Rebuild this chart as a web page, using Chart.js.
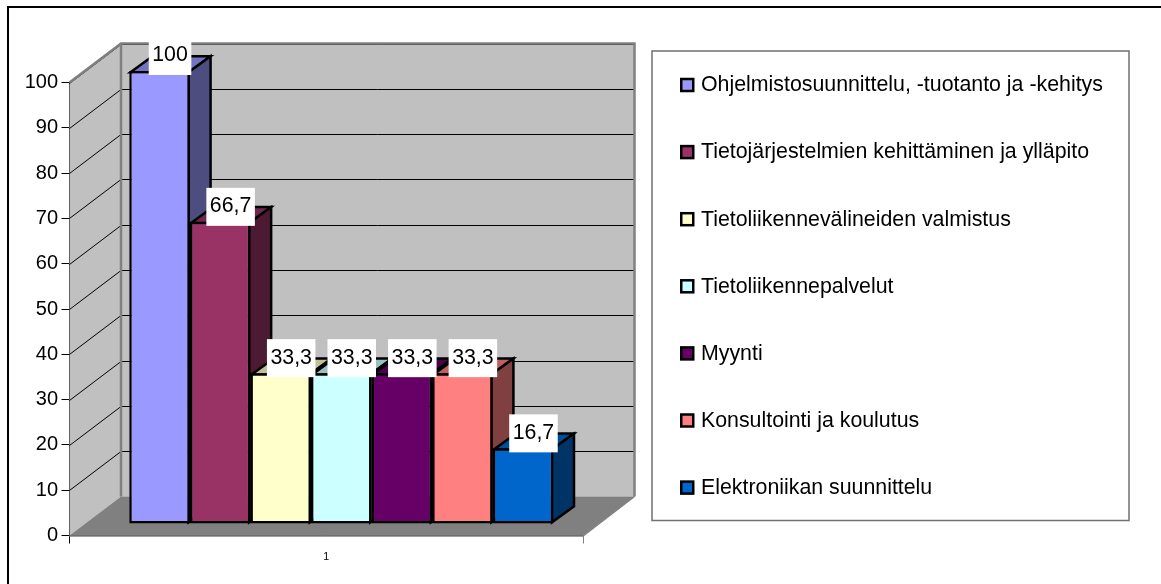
<!DOCTYPE html>
<html><head><meta charset="utf-8">
<style>html,body{margin:0;padding:0;background:#fff}canvas{display:block}</style>
<script src="https://cdn.jsdelivr.net/npm/chart.js@4"></script>
</head><body><canvas id="c" width="1161" height="584"></canvas>
<script>
const categories = ['1'];
const seriesNames = ['Ohjelmistosuunnittelu, -tuotanto ja -kehitys','Tietojärjestelmien kehittäminen ja ylläpito','Tietoliikennevälineiden valmistus','Tietoliikennepalvelut','Myynti','Konsultointi ja koulutus','Elektroniikan suunnittelu'];
const seriesValues = [100, 66.7, 33.3, 33.3, 33.3, 33.3, 16.7];
const seriesColors = ['#9999FF','#993366','#FFFFCC','#CCFFFF','#660066','#FF8080','#0066CC'];

const FONT = '"Liberation Sans", Arial, sans-serif';
const FS = 21.33;
const TICK_FS = 20;
const LW = 2.5;
const DEPTH = {x: 51.5, y: -39};      // floor depth
const FRONT = {x: 15, y: -11.5};      // bar front face offset
const BAR_D = {x: 22, y: -16};        // bar depth
const LEG_FRAME = {l: 652, t: 51, r: 1129, b: 520.5};
const LEG_ROW = {first: 85.5, step: 67.1, swatchX: 681.25, swatchSize: 12, textX: 701};

function shade(hex, k){
  const n = parseInt(hex.slice(1),16);
  return 'rgb('+[(n>>16)&255,(n>>8)&255,n&255].map(v=>Math.round(v*k)).join(',')+')';
}
function poly(ctx, pts, fill, stroke, lw){
  ctx.beginPath();
  pts.forEach((p,i)=> i?ctx.lineTo(p[0],p[1]):ctx.moveTo(p[0],p[1]));
  ctx.closePath();
  if(fill){ctx.fillStyle=fill;ctx.fill();}
  if(stroke){ctx.strokeStyle=stroke;ctx.lineWidth=lw;ctx.lineJoin='miter';ctx.stroke();}
}
function barsOf(chart){
  return chart.data.datasets.map((d,i)=>{
    const e = chart.getDatasetMeta(i).data[0];
    return {i, x0:e.x-e.width/2, x1:e.x+e.width/2, y:e.y, base:e.base, color:d.backgroundColor, value:d.data[0]};
  });
}
const scene = {
  id:'scene',
  afterLayout(chart){
    const lg = chart.legend, lab = chart.options.plugins.legend.labels, p = lab.padding;
    lg.left = LEG_ROW.textX - FS/2 - lab.boxWidth - p;
    lg.right = 1150;
    lg.top = LEG_ROW.first - FS/2 - p;
    lg.bottom = 2000;
    lg.width = lg.right-lg.left; lg.height = lg.bottom-lg.top;
  },
  beforeDraw(chart){
    const {ctx, width, height} = chart;
    ctx.save();
    ctx.fillStyle='#fff'; ctx.fillRect(0,0,width,height);
    ctx.strokeStyle='#000'; ctx.lineWidth=2;
    ctx.beginPath(); ctx.moveTo(8,height); ctx.lineTo(8,7); ctx.lineTo(width,7); ctx.stroke();
    poly(ctx,[[LEG_FRAME.l,LEG_FRAME.t],[LEG_FRAME.r,LEG_FRAME.t],[LEG_FRAME.r,LEG_FRAME.b],[LEG_FRAME.l,LEG_FRAME.b]],'#fff','#707070',1.5);
    ctx.restore();
  },
  beforeDatasetsDraw(chart){
    const {ctx, chartArea:a, scales:{y:ys}} = chart;
    const L=a.left,R=a.right,T=a.top,B=a.bottom,dx=DEPTH.x,dy=DEPTH.y;
    ctx.save();
    poly(ctx,[[L+dx,T+dy],[R+dx,T+dy],[R+dx,B+dy],[L+dx,B+dy]],'#C0C0C0');
    poly(ctx,[[L,T],[L+dx,T+dy],[L+dx,B+dy],[L,B]],'#C0C0C0');
    poly(ctx,[[L,B],[L+dx,B+dy],[R+dx,B+dy],[R,B]],'#808080');
    ctx.strokeStyle='#000'; ctx.lineWidth=1;
    ys.ticks.forEach(t=>{
      if(t.value===0) return;
      const y=Math.round(ys.getPixelForValue(t.value))+.5;
      ctx.beginPath(); ctx.moveTo(L,y); ctx.lineTo(L+dx,y+dy); ctx.lineTo(R+dx,y+dy); ctx.stroke();
    });
    ctx.strokeStyle='#808080'; ctx.lineWidth=2.5; ctx.lineJoin='miter';
    ctx.beginPath(); ctx.moveTo(L,T); ctx.lineTo(L+dx,T+dy); ctx.lineTo(R+dx,T+dy); ctx.lineTo(R+dx,B+dy); ctx.stroke();
    ctx.beginPath(); ctx.moveTo(L+dx,T+dy); ctx.lineTo(L+dx,B+dy); ctx.stroke();
    ctx.lineWidth=1.5;
    ctx.beginPath(); ctx.moveTo(L,B+.5); ctx.lineTo(R,B+.5); ctx.lineTo(R+dx,B+dy); ctx.stroke();
    const h = LW/2;
    barsOf(chart).forEach(b=>{
      const x0=b.x0+FRONT.x+h, x1=b.x1+FRONT.x-h, yt=b.y+FRONT.y+h, yb=b.base+FRONT.y-h, ox=BAR_D.x, oy=BAR_D.y;
      poly(ctx,[[x0,yt],[x1,yt],[x1+ox,yt+oy],[x0+ox,yt+oy]],shade(b.color,.75),'#000',LW);
      poly(ctx,[[x1,yt],[x1+ox,yt+oy],[x1+ox,yb+oy],[x1,yb]],shade(b.color,.5),'#000',LW);
    });
    ctx.restore();
    ctx.save();
    ctx.translate(FRONT.x, FRONT.y);
  },
  afterDatasetsDraw(chart){
    const {ctx, chartArea:a} = chart;
    ctx.restore();
    ctx.save();
    ctx.font = FS+'px '+FONT;
    const wallTop = a.top + DEPTH.y - 1.5;
    barsOf(chart).forEach(b=>{
      const txt = String(b.value).replace('.',',');
      const w = ctx.measureText(txt).width + 7;
      const cx = (b.x0+b.x1)/2 + FRONT.x + 10.5, cy = b.y + FRONT.y - 15;
      const top = Math.max(cy-19, wallTop), bot = cy+19;
      ctx.fillStyle='#fff';
      ctx.fillRect(cx-w/2, top, w, bot-top);
      ctx.fillStyle='#000'; ctx.textAlign='center'; ctx.textBaseline='middle';
      ctx.fillText(txt, cx, cy-0.5);
    });
    ctx.restore();
  },
  afterDraw(chart){
    const {ctx} = chart, s = LEG_ROW.swatchSize;
    ctx.save();
    chart.data.datasets.forEach((d,i)=>{
      const y = LEG_ROW.first - 0.5 + i*LEG_ROW.step - s/2;
      ctx.fillStyle = d.backgroundColor; ctx.fillRect(LEG_ROW.swatchX, y, s, s);
      ctx.strokeStyle = '#000'; ctx.lineWidth = LW; ctx.strokeRect(LEG_ROW.swatchX, y, s, s);
    });
    ctx.restore();
  }
};
new Chart(document.getElementById('c'),{
  type:'bar',
  data:{labels:categories,datasets:seriesNames.map((n,i)=>({
    label:n,data:[seriesValues[i]],backgroundColor:seriesColors[i],borderColor:'#000',borderWidth:LW,borderSkipped:false,clip:false
  }))},
  options:{
    responsive:false,animation:false,
    layout:{padding:{left:0,top:82.5,right:578,bottom:0}},
    datasets:{bar:{barPercentage:1,categoryPercentage:0.8257}},
    plugins:{
      tooltip:{enabled:false},
      legend:{position:'chartArea',align:'start',
        labels:{boxWidth:1,boxHeight:1,padding:LEG_ROW.step-FS,color:'#000',font:{family:FONT,size:FS},
          generateLabels:c=>c.data.datasets.map((d,i)=>({text:d.label,datasetIndex:i,fillStyle:'rgba(0,0,0,0)',strokeStyle:'rgba(0,0,0,0)',lineWidth:0,fontColor:'#000',hidden:false}))}}
    },
    scales:{
      x:{afterFit:s=>{s.height=48.5;},
        grid:{drawOnChartArea:false,tickLength:8,offset:true,color:c=>c.index===0?'#000':'#808080'},
        border:{color:'#000',width:1},
        ticks:{color:'#000',padding:7,font:{family:FONT,size:10.67}}},
      y:{min:0,max:100,afterFit:s=>{s.width=69.5;},
        grid:{drawOnChartArea:false,tickLength:8,color:'#000'},
        border:{color:'#000',width:1},
        ticks:{stepSize:10,color:'#000',padding:3.5,font:{family:FONT,size:TICK_FS}}}
    }
  },
  plugins:[scene]
});
</script></body></html>
